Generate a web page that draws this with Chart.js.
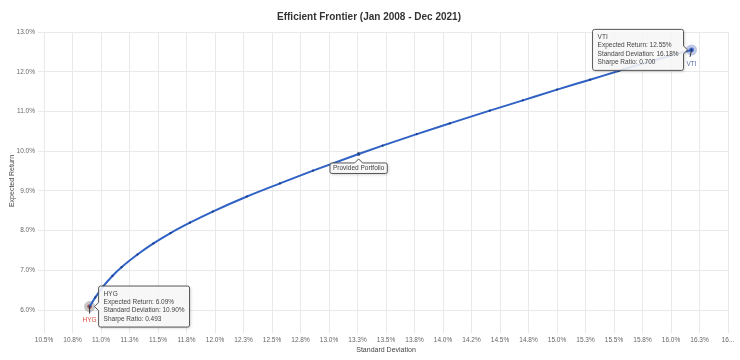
<!DOCTYPE html>
<html>
<head>
<meta charset="utf-8">
<script src="https://cdn.jsdelivr.net/npm/chart.js@4.4.1/dist/chart.umd.min.js"></script>
<style>
  body { margin: 0; background: #fff; }
  canvas { display: block; }
</style>
</head>
<body>
<canvas id="frontierChart" width="740" height="360"></canvas>
<script>
// frontier (std dev %, expected return %)
const frontierSd  = [10.90, 10.95, 11.02, 11.10, 11.18, 11.32, 11.46, 11.61, 11.78, 11.98, 12.28, 12.57, 12.86, 13.26, 13.47, 13.77, 14.06, 14.41, 14.70, 15.00, 15.29, 15.54, 15.84, 16.18];
const frontierRet = [6.09, 6.32, 6.60, 6.86, 7.08, 7.40, 7.68, 7.94, 8.20, 8.48, 8.86, 9.19, 9.51, 9.93, 10.14, 10.43, 10.70, 11.02, 11.28, 11.55, 11.80, 12.02, 12.28, 12.55];

const assetNames  = ["HYG", "VTI"];
const assetSd     = [10.90, 16.18];
const assetRet    = [6.09, 12.55];
const assetSharpe = [0.493, 0.700];

const providedName = "Provided Portfolio";
const providedSd   = [13.26];
const providedRet  = [9.93];

const xTicks = [10.5, 10.75, 11, 11.25, 11.5, 11.75, 12, 12.25, 12.5, 12.75, 13, 13.25, 13.5, 13.75, 14, 14.25, 14.5, 14.75, 15, 15.25, 15.5, 15.75, 16, 16.25, 16.5];
const xTickLabels = ["10.5%", "10.8%", "11.0%", "11.3%", "11.5%", "11.8%", "12.0%", "12.3%", "12.5%", "12.8%", "13.0%", "13.3%", "13.5%", "13.8%", "14.0%", "14.2%", "14.5%", "14.8%", "15.0%", "15.3%", "15.5%", "15.8%", "16.0%", "16.3%", "16..."];
const yTicks = [6, 7, 8, 9, 10, 11, 12, 13];
const yTickLabels = ["6.0%", "7.0%", "8.0%", "9.0%", "10.0%", "11.0%", "12.0%", "13.0%"];

const FONT = '"Liberation Sans", Arial, sans-serif';
Chart.defaults.font.family = FONT;

const dotColors  = ["#d63b22", "#2150c2"];
const haloColors = ["rgba(140,140,140,0.5)", "rgba(110,130,200,0.45)"];
const nameColors = ["#d9503c", "#5a6ea6"];
const boxSide    = ["right", "left"];

// box with a caret pointing at the marker
function calloutPath(ctx, bx, by, w, h, side, tx, ty) {
  const r = 2, c = 4;
  ctx.beginPath();
  ctx.moveTo(bx + r, by);
  if (side === "top") {
    ctx.lineTo(tx - c, by); ctx.lineTo(tx, by - c); ctx.lineTo(tx + c, by);
  }
  ctx.lineTo(bx + w - r, by);
  ctx.arcTo(bx + w, by, bx + w, by + r, r);
  if (side === "left") {
    ctx.lineTo(bx + w, ty - c); ctx.lineTo(bx + w + c, ty); ctx.lineTo(bx + w, ty + c);
  }
  ctx.lineTo(bx + w, by + h - r);
  ctx.arcTo(bx + w, by + h, bx + w - r, by + h, r);
  ctx.lineTo(bx + r, by + h);
  ctx.arcTo(bx, by + h, bx, by + h - r, r);
  if (side === "right") {
    ctx.lineTo(bx, ty + c); ctx.lineTo(bx - c, ty); ctx.lineTo(bx, ty - c);
  }
  ctx.lineTo(bx, by + r);
  ctx.arcTo(bx, by, bx + r, by, r);
  ctx.closePath();
}

function fillCallout(ctx) {
  ctx.save();
  ctx.shadowColor = "rgba(0,0,0,0.25)";
  ctx.shadowBlur = 3;
  ctx.shadowOffsetX = 1;
  ctx.shadowOffsetY = 1;
  ctx.fillStyle = "rgba(255,255,255,0.85)";
  ctx.fill();
  ctx.restore();
  ctx.strokeStyle = "#555";
  ctx.lineWidth = 1;
  ctx.stroke();
}

const calloutPlugin = {
  id: "callouts",
  afterDatasetsDraw(chart) {
    const { ctx, scales: { x, y } } = chart;
    ctx.save();
    ctx.font = "6.5px " + FONT;
    ctx.textBaseline = "middle";

    assetNames.forEach((name, i) => {
      const px = x.getPixelForValue(assetSd[i]);
      const py = y.getPixelForValue(assetRet[i]);

      // stem + name under the marker
      ctx.strokeStyle = "#333";
      ctx.lineWidth = 1;
      ctx.beginPath();
      ctx.moveTo(px, py);
      ctx.lineTo(px - (i ? 1.5 : 0), py + 7);
      ctx.stroke();
      ctx.fillStyle = nameColors[i];
      ctx.textAlign = "center";
      ctx.fillText(name, px, py + 14);

      const lines = [
        name,
        "Expected Return: " + assetRet[i].toFixed(2) + "%",
        "Standard Deviation: " + assetSd[i].toFixed(2) + "%",
        "Sharpe Ratio: " + assetSharpe[i].toFixed(3)
      ];
      const w = Math.max(...lines.map(l => ctx.measureText(l).width)) + 10;
      const h = 41;
      const bx = boxSide[i] === "right" ? px + 9 : px - 8 - w;
      const by = py - h / 2;
      calloutPath(ctx, bx, by, w, h, boxSide[i], px, py);
      fillCallout(ctx);
      ctx.fillStyle = "#444";
      ctx.textAlign = "left";
      lines.forEach((l, k) => ctx.fillText(l, bx + 5, by + 8 + k * 8.3));
    });

    // provided portfolio label
    const qx = x.getPixelForValue(providedSd[0]);
    const qy = y.getPixelForValue(providedRet[0]);
    const tw = ctx.measureText(providedName).width + 6;
    const bx = qx - tw / 2, by = qy + 9;
    calloutPath(ctx, bx, by, tw, 10.5, "top", qx, qy);
    fillCallout(ctx);
    ctx.fillStyle = "#444";
    ctx.textAlign = "center";
    ctx.fillText(providedName, qx, by + 5.5);
    ctx.restore();
  }
};

const toPoints = (xs, ys) => xs.map((v, i) => ({ x: v, y: ys[i] }));

new Chart(document.getElementById("frontierChart"), {
  type: "scatter",
  data: {
    datasets: [
      {
        data: toPoints(frontierSd, frontierRet),
        showLine: true,
        borderColor: "#2f62c4",
        borderWidth: 2,
        cubicInterpolationMode: "monotone",
        pointRadius: 1.1,
        pointBackgroundColor: "#1c3d8c",
        pointBorderWidth: 0
      },
      {
        data: toPoints(providedSd, providedRet),
        pointRadius: 1.8,
        pointBackgroundColor: "#111",
        pointBorderWidth: 0
      },
      {
        data: toPoints(assetSd, assetRet),
        pointRadius: 5.5,
        pointBackgroundColor: haloColors,
        pointBorderWidth: 0
      },
      {
        data: toPoints(assetSd, assetRet),
        pointRadius: 2.4,
        pointBackgroundColor: dotColors,
        pointBorderWidth: 0
      }
    ]
  },
  options: {
    responsive: false,
    animation: false,
    devicePixelRatio: 1,
    layout: { padding: { left: 10, right: 12, top: 0, bottom: 0 } },
    plugins: {
      legend: { display: false },
      tooltip: { enabled: false },
      title: {
        display: true,
        text: "Efficient Frontier (Jan 2008 - Dec 2021)",
        color: "#333",
        font: { size: 10, weight: "bold" },
        padding: { top: 11, bottom: 9 }
      }
    },
    scales: {
      x: {
        type: "linear",
        min: 10.5,
        max: 16.5,
        afterBuildTicks: s => { s.ticks = xTicks.map(v => ({ value: v })); },
        afterFit: s => { s.height = 30; },
        border: { display: false },
        grid: { color: "#e9e9e9", tickLength: 3 },
        ticks: {
          autoSkip: false,
          maxRotation: 0,
          padding: 3,
          color: "#666",
          font: { size: 6.5 },
          callback: (v, i) => xTickLabels[i]
        },
        title: {
          display: true,
          text: "Standard Deviation",
          color: "#444",
          font: { size: 7 },
          padding: { top: 2, bottom: 6 }
        }
      },
      y: {
        type: "linear",
        min: 5.5,
        max: 13,
        afterBuildTicks: s => { s.ticks = yTicks.map(v => ({ value: v })); },
        afterFit: s => { s.width = 34; },
        border: { display: false },
        grid: { color: "#e9e9e9", tickLength: 6 },
        ticks: {
          padding: 3,
          color: "#666",
          font: { size: 6.5 },
          callback: (v, i) => yTickLabels[i]
        },
        title: {
          display: true,
          text: "Expected Return",
          color: "#444",
          font: { size: 7 },
          padding: { top: -2, bottom: 2 }
        }
      }
    }
  },
  plugins: [calloutPlugin]
});
</script>
</body>
</html>
